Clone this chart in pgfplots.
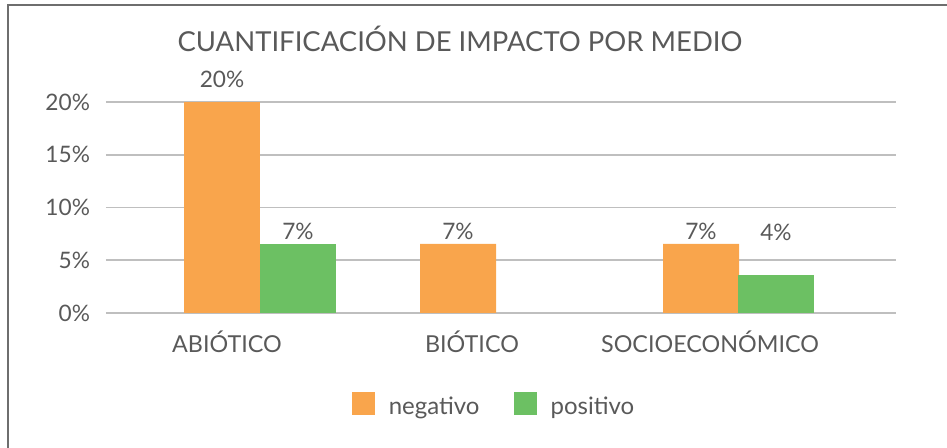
\documentclass[border=0pt]{standalone}
\usepackage{pgfplots}
\pgfplotsset{compat=1.18}
\usepackage{pgfplotstable}
\usepackage{fontspec}
\setmainfont{Lato}
\definecolor{negc}{HTML}{F9A54C}
\definecolor{posc}{HTML}{6CC063}
\definecolor{txt}{HTML}{595959}
\definecolor{gridc}{HTML}{BFBFBF}
\definecolor{framec}{HTML}{6E6E6E}

\pgfplotstableread{
x y
222 20
}\negtabA
\pgfplotstableread{
x y
458 6.54
701 6.54
}\negtabB
\pgfplotstableread{
x y
298 6.54
}\postabA
\pgfplotstableread{
x y
776 3.6
}\postabB

\begin{document}
\begin{tikzpicture}[x=0.75pt,y=0.75pt]
\path[use as bounding box] (0,0) rectangle (947,448);
\draw[framec, line width=1.8pt] (7,443) -- (947,443);
\draw[framec, line width=1.8pt] (8,443) -- (8,0);
\node[txt, font=\fontsize{20.6}{24}\selectfont] at (460,409) {CUANTIFICACIÓN DE IMPACTO POR MEDIO};
\begin{axis}[
 at={(106,128)}, anchor=south west,
 scale only axis, width=592.5pt, height=158.25pt,
 xmin=106, xmax=896, ymin=0, ymax=20,
 ybar, bar width=76, bar shift=0pt,
 axis line style={draw=none}, tick style={draw=none},
 ymajorgrids, grid style={gridc, line width=1.2pt},
 ytick={0,5,10,15,20},
 yticklabel={\pgfmathprintnumber{\tick}\%},
 xtick={227,472,710}, xticklabels={ABIÓTICO, BIÓTICO, SOCIOECONÓMICO},
 ticklabel style={txt},
 /pgf/number format/assume math mode=true,
 yticklabel style={xshift=-8.5pt, font=\fontsize{17}{20}\selectfont},
 xticklabel style={yshift=-6pt, font=\fontsize{17.5}{21}\selectfont},
 nodes near coords={\pgfmathprintnumber[fixed,precision=0]{\pgfplotspointmeta}\%},
 every node near coord/.append style={txt, font=\fontsize{17}{20}\selectfont, anchor=south},
 legend columns=2,
 legend style={at={(0.492,-0.44)}, anchor=center, draw=none, fill=none,
   font=\fontsize{18}{21}\selectfont, text=txt,
   /tikz/every even column/.append style={column sep=24pt}},
 legend image code/.code={\fill[#1] (0pt,-6.5pt) rectangle (17.25pt,10.75pt);},
]
\addplot[fill=negc, draw=none,
  every node near coord/.append style={yshift=7pt}] table[x=x,y=y] {\negtabA};
\addlegendentry{\hspace{8pt}negativo}
\addplot[fill=posc, draw=none] table[x=x,y=y] {\postabA};
\addlegendentry{\hspace{8pt}positivo}
\addplot[fill=negc, draw=none, forget plot] table[x=x,y=y] {\negtabB};
\addplot[fill=posc, draw=none, forget plot,
  every node near coord/.append style={yshift=22pt}] table[x=x,y=y] {\postabB};
\end{axis}
\end{tikzpicture}
\end{document}
